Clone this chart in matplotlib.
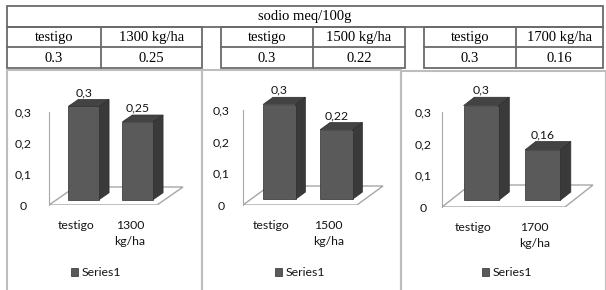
import matplotlib.pyplot as plt
from matplotlib.patches import Polygon, Rectangle

# data
header = "sodio meq/100g"
testigo_name = "testigo"
doses = ["1300 kg/ha", "1500 kg/ha", "1700 kg/ha"]
dose_ticks = ["1300\nkg/ha", "1500\nkg/ha", "1700\nkg/ha"]
val_testigo = [0.3, 0.3, 0.3]
val_dose = [0.25, 0.22, 0.16]
table_testigo = ["0.3", "0.3", "0.3"]
table_dose = ["0.25", "0.22", "0.16"]
series_name = "Series1"

W, H = 606, 290
plt.rcParams['font.family'] = ['Lato', 'DejaVu Sans']
fig = plt.figure(figsize=(W / 100, H / 100), dpi=100)

# overlay in pixel units for the table and the frames
ov = fig.add_axes([0, 0, 1, 1])
ov.set_xlim(0, W)
ov.set_ylim(H, 0)
ov.axis('off')

tcol = '#6a6a6a'
serif = 'Liberation Serif'
ov.add_patch(Rectangle((7, 6), 596, 21, fill=False, ec=tcol, lw=1.3))
ov.text(305, 16.5, header, ha='center', va='center', family=serif, fontsize=10.5)
tables = [(7, 101, 202), (221, 313, 405), (424, 516, 603)]
for (a, m, b), dose, tt, td in zip(tables, doses, table_testigo, table_dose):
    ov.add_patch(Rectangle((a, 27), b - a, 41, fill=False, ec=tcol, lw=1.3))
    ov.plot([a, b], [47, 47], color=tcol, lw=1.3)
    ov.plot([m, m], [27, 68], color=tcol, lw=1.3)
    ov.text((a + m) / 2, 37.5, testigo_name, ha='center', va='center', family=serif, fontsize=10.5)
    ov.text((m + b) / 2, 37.5, dose, ha='center', va='center', family=serif, fontsize=10.5)
    ov.text((a + m) / 2, 58, tt, ha='center', va='center', family=serif, fontsize=10.5)
    ov.text((m + b) / 2, 58, td, ha='center', va='center', family=serif, fontsize=10.5)

# chart frames
bcol = '#bdbdbd'
boxes = [(7, 202, 70), (202, 401, 70), (401, 606, 71)]
for a, b, t in boxes:
    ov.plot([a, a, b, b], [H + 2, t, t, H + 2], color=bcol, lw=1.5)

# chart layout: front-left floor corner, px per category, px per unit, depth
layout = [
    dict(fx=49, fy=205, ux=54, uy=311, depth=(26, 18), pad=26, leg=(96, 273)),
    dict(fx=243, fy=205, ux=57, uy=316, depth=(26, 19), pad=22, leg=(300, 273)),
    dict(fx=442, fy=207, ux=61.5, uy=316, depth=(28, 22), pad=19, leg=(507, 273)),
]

front = '#5a5a5a'
side_c = '#3a3a3a'
top_c = '#434343'
edge = '#2c2c2c'
txt = '#141414'
fs = 8.8
bw = 0.57
f0, f1 = 0.3, 0.38

for i, lay in enumerate(layout):
    ux, uy = lay['ux'], lay['uy']
    ax = fig.add_axes([lay['fx'] / W, (H - lay['fy']) / H, 2.5 * ux / W, 0.35 * uy / H])
    ax.set_xlim(-0.5, 2.0)
    ax.set_ylim(0, 0.35)
    ax.patch.set_alpha(0)
    dX = lay['depth'][0] / ux
    dY = lay['depth'][1] / uy

    ax.add_patch(Polygon([(-0.5, 0), (1.5, 0), (1.5 + dX, dY), (-0.5 + dX, dY)],
                         closed=True, fc='white', ec='#a6a6a6', lw=1, zorder=1))

    vals = [val_testigo[i], val_dose[i]]
    xs = [k + f0 * dX for k in range(2)]
    b0 = f0 * dY
    bars = ax.bar(xs, vals, bw, bottom=b0, color=front, edgecolor=edge, lw=0.5, zorder=3)
    sx, sy = f1 * dX, f1 * dY
    for xc, v in zip(xs, vals):
        xl, xr = xc - bw / 2, xc + bw / 2
        top = b0 + v
        ax.add_patch(Polygon([(xr, b0), (xr + sx, b0 + sy), (xr + sx, top + sy), (xr, top)],
                             closed=True, fc=side_c, ec=edge, lw=0.5, zorder=2))
        ax.add_patch(Polygon([(xl, top), (xr, top), (xr + sx, top + sy), (xl + sx, top + sy)],
                             closed=True, fc=top_c, ec=edge, lw=0.5, zorder=2))
        ax.annotate(f"{v:g}".replace('.', ','), (xc, top + sy), xytext=(0, 1),
                    textcoords='offset points', ha='center', va='bottom',
                    fontsize=fs, color=txt)

    for s in ['top', 'right', 'bottom']:
        ax.spines[s].set_visible(False)
    ax.spines['left'].set_bounds(0, 0.3)
    ax.spines['left'].set_color('#a6a6a6')
    ax.set_yticks([0, 0.1, 0.2, 0.3], labels=['0', '0,1', '0,2', '0,3'])
    for lab in ax.get_yticklabels():
        lab.set_horizontalalignment('center')
    ax.tick_params(axis='y', length=0, pad=lay['pad'] * 0.72, labelsize=fs, labelcolor=txt)
    ax.set_xticks([0, 1], labels=[testigo_name, dose_ticks[i]])
    ax.tick_params(axis='x', length=0, pad=10.5, labelsize=fs, labelcolor=txt)
    for lab in ax.get_xticklabels():
        lab.set_linespacing(1.55)

    cx, cy = lay['leg']
    ax.legend([bars], [series_name], loc='center', bbox_to_anchor=(cx / W, 1 - cy / H),
              bbox_transform=fig.transFigure, frameon=False, handlelength=0.55,
              handleheight=0.6, handletextpad=0.3, borderpad=0, fontsize=fs,
              labelcolor=txt)

fig.savefig('out.png', dpi=100)
